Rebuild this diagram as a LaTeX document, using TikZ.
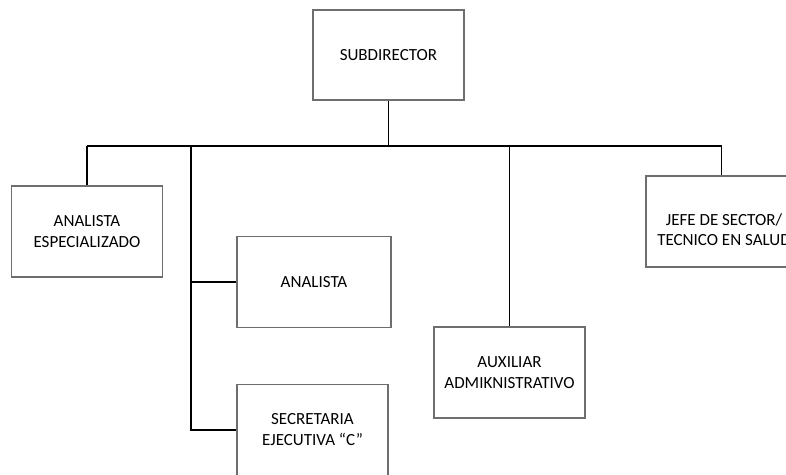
\documentclass[tikz,border=0pt]{standalone}
\usepackage{fontspec}
\setmainfont{Carlito}
\usetikzlibrary{positioning}
\definecolor{boxgray}{RGB}{110,110,110}

\begin{document}
\begin{tikzpicture}[x=1pt,y=-1pt,
  box/.style={draw=boxgray,line width=1.3pt,fill=white,minimum width=151pt,minimum height=91pt,
    align=center,inner sep=0pt,font=\fontsize{17}{21}\selectfont},
  link/.style={draw=black,line width=1.4pt}]
\useasboundingbox (0,0) rectangle (786,474);
\clip (0,0) rectangle (786,474);
\node (sub) at (388.5,55) [box,minimum height=90pt] {SUBDIRECTOR};
\node (esp) at (87,231.5) [box] {ANALISTA\\ESPECIALIZADO};
\node (jefe) at (721.5,221.5) [box] {};
\node (jefetext) at (724,230) [align=center,inner sep=0pt,font=\fontsize{17}{20}\selectfont] {JEFE DE SECTOR/\\TECNICO EN SALUD};
\node (ana) at (314,282) [box,minimum width=154pt] {ANALISTA};
\node (sec) at (312.5,430) [box] {SECRETARIA\\EJECUTIVA “C”};
\node (aux) at (509.5,372.5) [box] {AUXILIAR\\ADMIKNISTRATIVO};
\coordinate (bus) at (0,146);
\coordinate (trunk) at (191,146);
\draw[link] (sub.south) -- (sub.south |- bus);
\draw[link] (esp.north |- bus) -- (jefe.north |- bus);
\draw[link] (esp.north |- bus) -- (esp.north);
\draw[link] (trunk) -- (trunk |- sec.west) -- (sec.west);
\draw[link] (trunk |- ana.west) -- (ana.west);
\draw[link] (aux.north |- bus) -- (aux.north);
\draw[link] (jefe.north |- bus) -- (jefe.north);
\end{tikzpicture}
\end{document}
